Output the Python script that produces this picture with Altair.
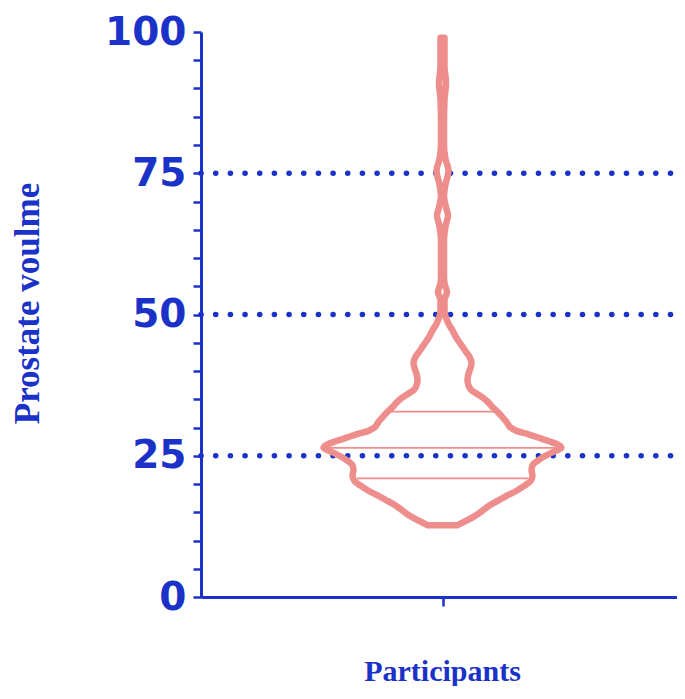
import altair as alt
import pandas as pd

# Violin outline: prostate volume level and half-width (px-equivalent, max ~119)
vol_levels = [12.7, 13.5, 14.5, 15.3, 16.2, 17.0, 17.9, 18.8, 19.7, 20.5, 21.5, 22.4, 23.3, 24.1,
              25.0, 25.7, 26.4, 27.0, 27.6, 28.2, 28.8, 29.4, 30.0, 31.0, 32.0, 32.8, 33.6, 34.4,
              35.2, 35.9, 36.6, 37.4, 38.4, 39.5, 40.5, 41.5, 42.5, 43.5, 44.3, 45.3, 46.3, 47.2,
              48.2, 49.2, 50.0, 51.0, 52.5, 54.0, 55.5, 57.0, 60.0, 63.0, 66.0, 67.5, 69.0, 71.0,
              73.0, 75.5, 77.5, 80.0, 84.0, 88.0, 91.0, 94.0, 97.0, 99.0]
half_width = [15, 24, 34, 40, 47, 55, 64, 74, 82, 88, 90, 89, 90, 95,
              103, 111, 119, 115, 106, 96, 86, 74, 68, 64, 59, 55, 50, 46,
              41, 35, 29, 26, 25, 26, 28, 29, 27, 23, 20, 16, 12.5, 10,
              6.5, 4, 2.5, 2, 2, 4.5, 2, 1.5, 1.5, 1.5, 3.5, 5.5, 3.5, 1.5,
              3, 6, 3, 1.5, 1.5, 2, 3.5, 2, 2, 2]

# Quartiles (Q1, median, Q3) and their line half-widths
quart_values = [21.0, 26.4, 32.8]
quart_half = [85.5, 113.5, 54]

ref_values = [25, 50, 75]
y_ticks = list(range(0, 101, 5))

SCALE = 241.5  # half-width units per x-axis unit
BLUE = "#1a32c8"
PINK = "#ee8e8c"

violin = pd.DataFrame({
    "v": vol_levels,
    "lo": [-h / SCALE for h in half_width],
    "hi": [h / SCALE for h in half_width],
})
quart = pd.DataFrame({
    "v": quart_values,
    "lo": [-h / SCALE for h in quart_half],
    "hi": [h / SCALE for h in quart_half],
})
refs = pd.DataFrame({"v": ref_values, "lo": [-1] * 3, "hi": [0.971] * 3})

xscale = alt.Scale(domain=[-1, 0.971], nice=False, zero=False)
yscale = alt.Scale(domain=[0, 100], nice=False)

xaxis = alt.Axis(
    values=[0], labels=False, grid=False, domainColor=BLUE, domainWidth=3,
    tickColor=BLUE, tickWidth=2.5, tickSize=9,
    title="Participants", titleFont="Liberation Serif", titleFontSize=30,
    titleFontWeight="bold", titleColor=BLUE, titleX=241, titleY=83,
    titleBaseline="alphabetic", titleAlign="center",
)
yaxis = alt.Axis(
    values=y_ticks, grid=False, domainColor=BLUE, domainWidth=3,
    tickColor=BLUE, tickWidth=2.5, tickSize=8, labelOverlap=False,
    labelExpr="datum.value % 25 === 0 ? datum.label : ''",
    labelFont="DejaVu Sans", labelFontSize=39, labelFontWeight="bold",
    labelColor=BLUE, labelPadding=7, labelBaseline="middle",
    title="Prostate voulme", titleFont="Liberation Serif", titleFontSize=35,
    titleFontWeight="bold", titleColor=BLUE, titleAngle=270,
    titleX=-174, titleY=271, titleBaseline="middle", titleAlign="center",
)

dots = alt.Chart(refs).mark_rule(
    color=BLUE, strokeWidth=5.5, strokeDash=[0.1, 14.57], strokeCap="round"
).encode(
    x=alt.X("lo:Q", scale=xscale, axis=xaxis),
    x2="hi:Q",
    y=alt.Y("v:Q", scale=yscale, axis=yaxis),
)

outline = alt.Chart(violin).mark_area(
    orient="horizontal", interpolate="monotone", fillOpacity=0,
    stroke=PINK, strokeWidth=6.5, strokeJoin="round",
).encode(
    x=alt.X("lo:Q", scale=xscale, axis=xaxis),
    x2="hi:Q",
    y=alt.Y("v:Q", scale=yscale, axis=yaxis),
)

qlines = alt.Chart(quart).mark_rule(color=PINK, strokeWidth=1.8).encode(
    x=alt.X("lo:Q", scale=xscale, axis=xaxis),
    x2="hi:Q",
    y=alt.Y("v:Q", scale=yscale, axis=yaxis),
)

chart = alt.layer(dots, outline, qlines).properties(
    width=476, height=565,
    autosize=alt.AutoSizeParams(type="none"),
    padding={"left": 193, "top": 24, "right": 0, "bottom": 89},
).configure_view(stroke=None).configure_axis(labelOverlap=False)

chart.save("out.html", embed_options={"renderer": "svg", "actions": False})
